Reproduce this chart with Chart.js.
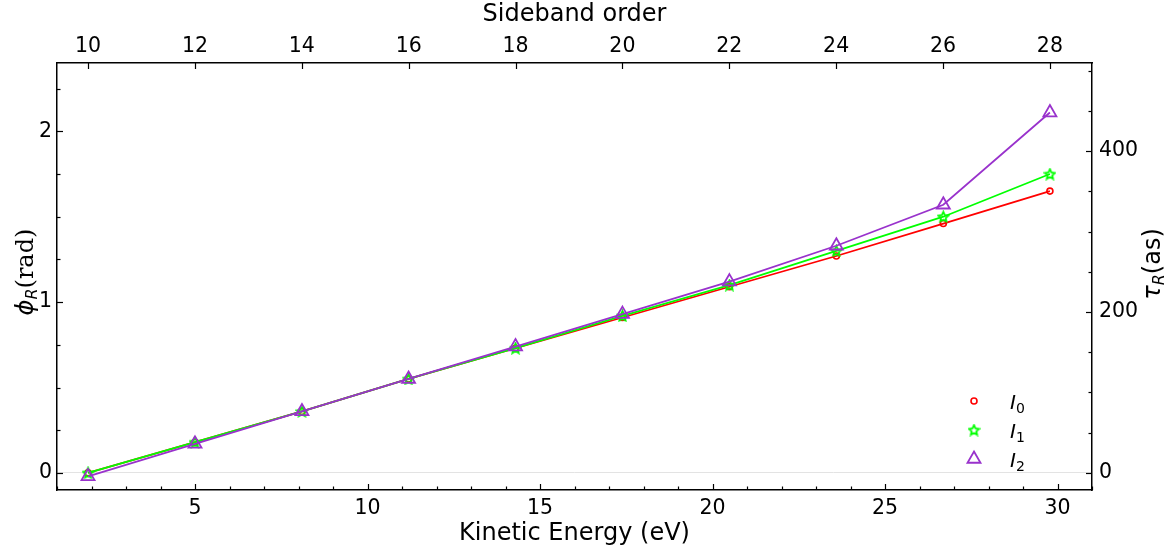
<!DOCTYPE html>
<html>
<head>
<meta charset="utf-8">
<script src="https://cdn.jsdelivr.net/npm/chart.js@4"></script>
<style>
  html, body { margin: 0; padding: 0; background: #fff; }
  canvas { display: block; }
</style>
</head>
<body>
<canvas id="chart" width="1170" height="554"></canvas>
<script>
// data
const sidebandOrder = [10, 12, 14, 16, 18, 20, 22, 24, 26, 28];
const kineticEnergy = [1.90, 5.00, 8.10, 11.19, 14.29, 17.39, 20.49, 23.59, 26.69, 29.78];
const phaseI0 = [0.00, 0.18, 0.36, 0.55, 0.73, 0.91, 1.09, 1.27, 1.46, 1.65];
const phaseI1 = [0.00, 0.18, 0.36, 0.55, 0.73, 0.92, 1.10, 1.30, 1.50, 1.75];
const phaseI2 = [-0.02, 0.17, 0.36, 0.55, 0.74, 0.93, 1.12, 1.33, 1.57, 2.11];
const seriesLabels = ["0", "1", "2"];

// tick labels
const energyTicks = [5, 10, 15, 20, 25, 30];
const orderTicks = [10, 12, 14, 16, 18, 20, 22, 24, 26, 28];
const phaseTicks = [0, 1, 2];
const delayTicks = [0, 200, 400];

// axis ranges
const xMin = 1.0, xMax = 31.0;
const yMin = -0.1, yMax = 2.4;
const asPerRad = 212.3; // tau = phi / (2 omega)

// top axis follows the sideband order <-> energy relation
const n = sidebandOrder.length;
const orderPerEv = (sidebandOrder[n - 1] - sidebandOrder[0]) / (kineticEnergy[n - 1] - kineticEnergy[0]);
const toOrder = e => sidebandOrder[0] + (e - kineticEnergy[0]) * orderPerEv;

const FONT = "DejaVu Sans";

function makeStar(size, color) {
  const c = document.createElement("canvas");
  c.width = c.height = size;
  const g = c.getContext("2d");
  const cx = size / 2, cy = size / 2 + 0.5;
  const r1 = size / 2 - 1.2, r2 = r1 * 0.48;
  g.beginPath();
  for (let i = 0; i < 10; i++) {
    const a = -Math.PI / 2 + i * Math.PI / 5;
    const r = i % 2 ? r2 : r1;
    const px = cx + r * Math.cos(a), py = cy + r * Math.sin(a);
    if (i === 0) g.moveTo(px, py); else g.lineTo(px, py);
  }
  g.closePath();
  g.strokeStyle = color;
  g.lineWidth = 1.8;
  g.stroke();
  return c;
}

const red = "#ff0000";
const green = "#00ff00";
const purple = "#9932cc";
const starImg = makeStar(13, green);

const datasets = [
  {
    label: seriesLabels[0],
    data: kineticEnergy.map((e, i) => ({ x: e, y: phaseI0[i] })),
    borderColor: red,
    backgroundColor: "rgba(255,255,255,0)",
    borderWidth: 1.8,
    pointStyle: "circle",
    pointRadius: 3,
    pointBorderWidth: 1.6,
    order: 2,
  },
  {
    label: seriesLabels[1],
    data: kineticEnergy.map((e, i) => ({ x: e, y: phaseI1[i] })),
    borderColor: green,
    backgroundColor: "rgba(255,255,255,0)",
    borderWidth: 1.8,
    pointStyle: starImg,
    order: 1,
  },
  {
    label: seriesLabels[2],
    data: kineticEnergy.map((e, i) => ({ x: e, y: phaseI2[i] })),
    borderColor: purple,
    backgroundColor: "rgba(255,255,255,0)",
    borderWidth: 1.8,
    pointStyle: "triangle",
    pointRadius: 7.5,
    pointBorderWidth: 1.8,
    order: 0,
  },
];

function fixSize(prop, val) {
  return scale => { scale[prop] = val; };
}
function useTicks(values) {
  return scale => { scale.ticks = values.map(v => ({ value: v })); };
}

const tickFont = { family: FONT, size: 20.5 };

// inward ticks, axis titles and legend
const decorations = {
  id: "decorations",
  afterDraw(chart) {
    const ctx = chart.ctx;
    const { left, right, top, bottom } = chart.chartArea;
    const s = chart.scales;
    ctx.save();
    ctx.strokeStyle = "#000";
    ctx.lineWidth = 1.2;

    function hTicks(scale, values, len, atY, dir) {
      values.forEach(v => {
        const px = Math.round(scale.getPixelForValue(v)) + 0.5;
        ctx.beginPath();
        ctx.moveTo(px, atY);
        ctx.lineTo(px, atY + dir * len);
        ctx.stroke();
      });
    }
    function vTicks(scale, values, len, atX, dir) {
      values.forEach(v => {
        const py = Math.round(scale.getPixelForValue(v)) + 0.5;
        ctx.beginPath();
        ctx.moveTo(atX, py);
        ctx.lineTo(atX + dir * len, py);
        ctx.stroke();
      });
    }
    const range = (a, b, step) => {
      const out = [];
      for (let v = Math.ceil(a / step) * step; v <= b + 1e-9; v += step) out.push(+v.toFixed(6));
      return out;
    };
    const isMajor = (v, step) => Math.abs(v / step - Math.round(v / step)) < 1e-6;

    hTicks(s.x, energyTicks, 6, bottom, -1);
    hTicks(s.x, range(xMin, xMax, 1).filter(v => !isMajor(v, 5)), 3.5, bottom, -1);
    hTicks(s.x2, orderTicks, 6, top, 1);
    vTicks(s.y, phaseTicks, 6, left, 1);
    vTicks(s.y, range(yMin, yMax, 0.25).filter(v => !isMajor(v, 1)), 3.5, left, 1);
    vTicks(s.y2, delayTicks, 6, right, -1);
    vTicks(s.y2, range(s.y2.min, s.y2.max, 50).filter(v => !isMajor(v, 200)), 3.5, right, -1);

    // axis titles
    ctx.fillStyle = "#000";
    ctx.textBaseline = "middle";
    ctx.textAlign = "center";
    ctx.font = "24px " + FONT;
    ctx.fillText("Kinetic Energy (eV)", (left + right) / 2, 534);
    ctx.fillText("Sideband order", (left + right) / 2, 15);

    function richText(parts, cx, cy, rot) {
      ctx.save();
      ctx.translate(cx, cy);
      ctx.rotate(rot);
      ctx.textAlign = "left";
      ctx.textBaseline = "alphabetic";
      let w = 0;
      parts.forEach(p => { ctx.font = p.font; p.w = ctx.measureText(p.t).width; w += p.w; });
      let x = -w / 2;
      parts.forEach(p => {
        ctx.font = p.font;
        ctx.fillText(p.t, x, 8 + (p.dy || 0));
        x += p.w;
      });
      ctx.restore();
    }
    richText([
      { t: "\u03D5", font: "italic 24px " + FONT },
      { t: "R", font: "italic 16px " + FONT, dy: 4 },
      { t: "(rad)", font: "24px DejaVu Serif" },
    ], 25, 272, -Math.PI / 2);
    richText([
      { t: "\u03C4", font: "italic 24px " + FONT },
      { t: "R", font: "italic 16px " + FONT, dy: 4 },
      { t: "(as)", font: "24px " + FONT },
    ], 1152, 264, -Math.PI / 2);

    // legend
    const order = [0, 1, 2];
    order.forEach((di, k) => {
      const ds = chart.data.datasets[di];
      const y = 401 + k * 29;
      ctx.strokeStyle = ds.borderColor;
      ctx.fillStyle = "rgba(255,255,255,0)";
      ctx.lineWidth = ds.pointBorderWidth || 1.8;
      Chart.helpers.drawPoint(ctx, {
        pointStyle: ds.pointStyle,
        radius: ds.pointRadius || 3,
        rotation: 0,
        borderWidth: ds.pointBorderWidth || 1.8,
      }, 974, y);
      ctx.fillStyle = "#000";
      ctx.textAlign = "left";
      ctx.textBaseline = "alphabetic";
      ctx.font = "italic 20px " + FONT;
      ctx.fillText("I", 1010, y + 8);
      ctx.font = "14px " + FONT;
      ctx.fillText(ds.label, 1016, y + 12);
    });
    ctx.restore();
  },
};

new Chart(document.getElementById("chart"), {
  type: "line",
  data: { datasets },
  options: {
    responsive: false,
    devicePixelRatio: 1,
    animation: false,
    layout: { padding: 0 },
    plugins: { legend: { display: false }, tooltip: { enabled: false } },
    scales: {
      x: {
        type: "linear",
        position: "bottom",
        min: xMin,
        max: xMax,
        afterBuildTicks: useTicks(energyTicks),
        afterFit: fixSize("height", 64),
        grid: { display: false },
        border: { display: true, color: "#000", width: 1.5 },
        ticks: { font: tickFont, color: "#000", padding: -2, maxRotation: 0, autoSkip: false },
      },
      x2: {
        type: "linear",
        position: "top",
        min: toOrder(xMin),
        max: toOrder(xMax),
        afterBuildTicks: useTicks(orderTicks),
        afterFit: fixSize("height", 63),
        grid: { display: false },
        border: { display: true, color: "#000", width: 1.5 },
        ticks: { font: tickFont, color: "#000", padding: -4, maxRotation: 0, autoSkip: false },
      },
      y: {
        type: "linear",
        position: "left",
        min: yMin,
        max: yMax,
        afterBuildTicks: useTicks(phaseTicks),
        afterFit: fixSize("width", 57),
        grid: {
          drawTicks: false,
          color: c => (c.tick && c.tick.value === 0 ? "#e3e3e3" : "rgba(0,0,0,0)"),
          lineWidth: 1,
        },
        border: { display: true, color: "#000", width: 1.5 },
        ticks: { font: tickFont, color: "#000", padding: 5 },
      },
      y2: {
        type: "linear",
        position: "right",
        min: yMin * asPerRad,
        max: yMax * asPerRad,
        afterBuildTicks: useTicks(delayTicks),
        afterFit: fixSize("width", 78),
        grid: { display: false },
        border: { display: true, color: "#000", width: 1.5 },
        ticks: { font: tickFont, color: "#000", padding: -1 },
      },
    },
  },
  plugins: [decorations],
});
</script>
</body>
</html>
